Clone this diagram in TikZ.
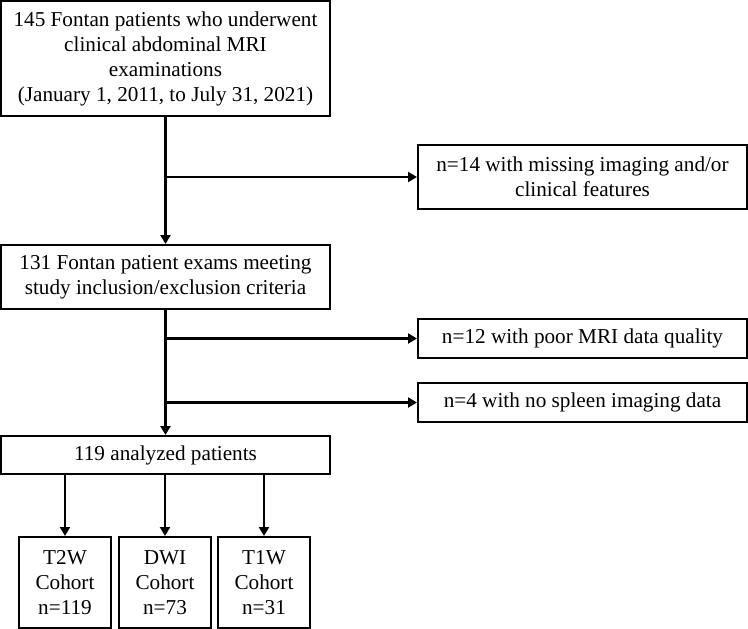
\documentclass[tikz,border=0pt]{standalone}
\usepackage{fontspec}
\setmainfont{Liberation Serif}
\usetikzlibrary{arrows.meta}
\begin{document}
\begin{tikzpicture}[x=1pt,y=-1pt,
  box/.style={draw,line width=2pt,align=center,inner sep=0pt,
    font=\fontsize{21.2}{25}\selectfont},
  arr/.style={line width=2.3pt,-{Triangle[length=9pt,width=10pt]}}]
\useasboundingbox (0,0) rectangle (748,629);
\node[box,minimum width=329pt,minimum height=115pt] (b1) at (165.5,58.5)
  {145 Fontan patients who underwent\\clinical abdominal MRI\\examinations\\(January 1, 2011, to July 31, 2021)};
\node[box,minimum width=329pt,minimum height=64pt] (n14) at (582.5,177)
  {n=14 with missing imaging and/or\\clinical features};
\node[box,minimum width=329pt,minimum height=64pt] (b2) at (165.5,277)
  {131 Fontan patient exams meeting\\study inclusion/exclusion criteria};
\node[box,minimum width=329pt,minimum height=39pt] (n12) at (582.5,338.5)
  {n=12 with poor MRI data quality};
\node[box,minimum width=329pt,minimum height=39pt] (n4) at (582.5,402.5)
  {n=4 with no spleen imaging data};
\node[box,minimum width=329pt,minimum height=38pt] (b3) at (165.5,455)
  {119 analyzed patients};
\node[box,minimum width=92pt,minimum height=91pt] (t2) at (65,582.5)
  {T2W\\Cohort\\n=119};
\node[box,minimum width=92pt,minimum height=91pt] (dw) at (165,582.5)
  {DWI\\Cohort\\n=73};
\node[box,minimum width=92pt,minimum height=91pt] (t1) at (264,582.5)
  {T1W\\Cohort\\n=31};
\draw[arr] (b1.south) -- (b2.north);
\draw[arr] (b1.south |- n14.west) -- (n14.west);
\draw[arr] (b2.south) -- (b3.north);
\draw[arr] (b2.south |- n12.west) -- (n12.west);
\draw[arr] (b2.south |- n4.west) -- (n4.west);
\draw[arr] (b3.south -| t2.north) -- (t2.north);
\draw[arr] (b3.south -| dw.north) -- (dw.north);
\draw[arr] (b3.south -| t1.north) -- (t1.north);
\end{tikzpicture}
\end{document}
